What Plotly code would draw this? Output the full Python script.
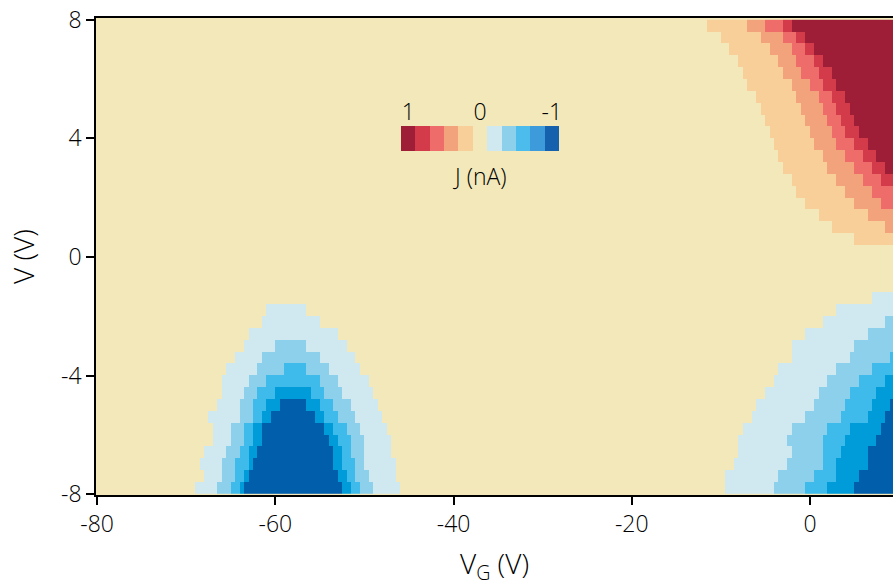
import numpy as np
import plotly.graph_objects as go

# ---------------- data ----------------
# level colours, from J = -1 (index 0) to J = +1 (index 10)
level_colors = ["#005EAB", "#009CDA", "#3FBBEB", "#8DD0EC", "#D0E8F0",
                "#F2E8BA",
                "#F8CF98", "#F3A37C", "#EE6C69", "#D33B4A", "#9E1D37"]
inset_colors = ["#1561AD", "#3D9BDC", "#4BBCEC", "#8DD0EC", "#D0E8F0",
                "#F2E8BA",
                "#F8CF98", "#F3A37C", "#EE6C69", "#D33B4A", "#9E1D37"]
inset_values = [1, 0.8, 0.6, 0.4, 0.2, 0, -0.2, -0.4, -0.6, -0.8, -1]
inset_ticks = ["1", "0", "-1"]

x_ticks = [-80, -60, -40, -20, 0]
x_tick_text = ["-80", "-60", "-40", "-20", "0"]
y_ticks = [-8, -4, 0, 4, 8]
y_tick_text = ["-8", "-4", "0", "4", "8"]

# Positive-current lobe (top right): V_G where each level starts, per bias row
red_rows_v = [7.8, 7.4, 7.0, 6.6, 6.2, 5.8, 5.4, 5.0, 4.6, 4.2, 3.8, 3.4, 3.0,
              2.6, 2.2, 1.8, 1.4, 1.0, 0.6]
red_l1 = [-11.5, -10, -9, -8, -7.5, -7, -6, -5.5, -5, -4.5, -4, -3.5, -3,
          -2, -1.5, -0.5, 1, 2.5, 5]
red_l2 = [-7, -5.5, -4.5, -3.5, -3, -2, -1.5, -1, -0.5, 0, 0.5, 1.5, 2,
          3, 4, 5, 6.5, 8.5, None]
red_l3 = [-5, -3, -2, -1.5, -1, 0, 1, 1.5, 2, 2.5, 3, 4, 5,
          6, 7, 8, None, None, None]
red_l4 = [-3, -1.5, -0.5, 0.5, 1, 1.5, 2.5, 3, 3.5, 4, 5, 6, 7,
          8, None, None, None, None, None]
red_l5 = [-2, -0.5, 0.5, 1.5, 2.5, 3, 4, 4.5, 5, 5.5, 6.5, 7.5, 8.5,
          None, None, None, None, None, None]

# Negative-current lobe around V_G = -58 V: start / end of each level per row
lb_rows_v = [-7.8, -7.4, -7.0, -6.6, -6.2, -5.8, -5.4, -5.0, -4.6, -4.2,
             -3.8, -3.4, -3.0, -2.6, -2.2, -1.8]
lb_s1 = [-69, -68, -68.5, -68, -67, -67, -67.5, -66.5, -66, -66,
         -65.5, -64.5, -63.5, -63, -61.5, -61]
lb_e1 = [-46, -46.5, -46.5, -47, -47, -47.5, -48, -48.5, -49, -49.5,
         -50.5, -51, -52, -53, -55, -56.5]
lb_s2 = [-66.5, -66, -66, -65.5, -65, -65, -64, -64, -63.5, -63,
         -62, -61.5, -60, None, None, None]
lb_e2 = [-49, -49.5, -50, -50, -50, -50.5, -51, -51.5, -52.5, -53,
         -54, -55, -56.5, None, None, None]
lb_s3 = [-65, -64.5, -64.5, -64, -63.5, -63.5, -62.5, -62.5, -62, -61,
         -59, None, None, None, None, None]
lb_e3 = [-50.5, -51, -51, -51.5, -51.5, -52, -53, -53.5, -54.5, -55,
         -56.5, None, None, None, None, None]
lb_s4 = [-64, -63.5, -63, -63, -62.5, -62.5, -61.5, -61, -60,
         None, None, None, None, None, None, None]
lb_e4 = [-51.5, -52, -52.5, -52.5, -53, -53.5, -54.5, -55, -56,
         None, None, None, None, None, None, None]
lb_s5 = [-63.5, -63, -62.5, -62, -61.5, -61.5, -60.5, -59.5,
         None, None, None, None, None, None, None, None]
lb_e5 = [-52.5, -53, -53.5, -53.5, -54, -54.5, -55.5, -56.5,
         None, None, None, None, None, None, None, None]

# Negative-current lobe at the right edge: V_G where each level starts
rb_rows_v = [-7.8, -7.4, -7.0, -6.6, -6.2, -5.8, -5.4, -5.0, -4.6, -4.2,
             -3.8, -3.4, -3.0, -2.6, -2.2, -1.8, -1.4]
rb_s1 = [-9.5, -9.5, -8.5, -8, -8, -7.5, -6.5, -6, -5, -4,
         -3.5, -2, -2, -0.5, 1.5, 3, 7]
rb_s2 = [-4, -3.5, -2.5, -2, -2.5, -2, -0.5, 0.5, 1, 2,
         3, 4.5, 5, 6.5, 8.5, None, None]
rb_s3 = [-0.5, 0.5, 1.5, 1.5, 1.5, 2, 3.5, 4, 4.5, 5.5,
         7, 9, None, None, None, None, None]
rb_s4 = [2, 3, 3, 3.5, 4, 4.5, 6.5, 7, 7.5, 8.5,
         None, None, None, None, None, None, None]
rb_s5 = [5, 5.5, 6.5, 6.5, 7.5, 8, 8.5, 9,
         None, None, None, None, None, None, None, None, None]

# ---------------- build the gridded map (0.5 V x 0.4 V cells) ----------------
dx, dy = 0.5, 0.4
x_c = np.arange(-79.75, 10.3, dx)
y_c = np.round(np.arange(-7.8, 7.9, dy), 2)
level = np.zeros((len(y_c), len(x_c)), dtype=int)
eps = 1e-6
xl = x_c - dx / 2
xr = x_c + dx / 2


def row_index(v):
    return int(round((v - y_c[0]) / dy))


for k, v in enumerate(red_rows_v):
    r = row_index(v)
    for starts in (red_l1, red_l2, red_l3, red_l4, red_l5):
        s = starts[k]
        if s is not None:
            level[r] += (xl >= s - eps).astype(int)

for k, v in enumerate(lb_rows_v):
    r = row_index(v)
    for s_arr, e_arr in ((lb_s1, lb_e1), (lb_s2, lb_e2), (lb_s3, lb_e3),
                         (lb_s4, lb_e4), (lb_s5, lb_e5)):
        s, e = s_arr[k], e_arr[k]
        if s is not None:
            level[r] -= ((xl >= s - eps) & (xr <= e + eps)).astype(int)

for k, v in enumerate(rb_rows_v):
    r = row_index(v)
    for starts in (rb_s1, rb_s2, rb_s3, rb_s4, rb_s5):
        s = starts[k]
        if s is not None:
            level[r] -= (xl >= s - eps).astype(int)

J = level / 5.0


def discrete_scale(colors):
    n = len(colors)
    cs = []
    for i, c in enumerate(colors):
        cs.append([i / n, c])
        cs.append([(i + 1) / n, c])
    return cs


font_family = "Open Sans, Lato, DejaVu Sans, sans-serif"
txt_color = "#000000"
fs = 23

fig = go.Figure()
fig.add_trace(go.Heatmap(
    x=x_c, y=y_c, z=J,
    colorscale=discrete_scale(level_colors), zmin=-1.1, zmax=1.1,
    showscale=False, hoverinfo="skip"))

fig.add_trace(go.Heatmap(
    x=list(range(len(inset_values))), y=[0], z=[inset_values],
    colorscale=discrete_scale(inset_colors), zmin=-1.1, zmax=1.1,
    showscale=False, hoverinfo="skip", xaxis="x2", yaxis="y2"))

fig.update_layout(
    template="none",
    width=893, height=586, autosize=False,
    margin=dict(l=96, r=0, t=18, b=91, pad=0, autoexpand=False),
    paper_bgcolor="white", plot_bgcolor="#F2E8BA",
    font=dict(family=font_family, size=fs, color=txt_color, weight=300),
    showlegend=False,
    xaxis=dict(
        range=[-80.13, 9.32], tickvals=x_ticks, ticktext=x_tick_text,
        ticks="outside", ticklen=8, tickwidth=1.5, tickcolor="black",
        showline=True, linecolor="black", linewidth=1.5, mirror=True,
        showgrid=False, zeroline=False, automargin=False,
        title=dict(text="V<sub>G</sub> (V)", standoff=17),
        tickfont=dict(size=fs)),
    yaxis=dict(
        range=[-8.03, 8.06], tickvals=y_ticks, ticktext=y_tick_text,
        ticks="outside", ticklen=8, tickwidth=1.5, tickcolor="black",
        showline=True, linecolor="black", linewidth=1.5,
        showgrid=False, zeroline=False, automargin=False,
        title=dict(text="V (V)", standoff=18),
        tickfont=dict(size=fs)),
    xaxis2=dict(
        domain=[0.3827, 0.5809], anchor="y2", range=[-0.5, 10.5],
        tickvals=[0, 5, 10], ticktext=inset_ticks, side="top",
        ticks="", showline=False, showgrid=False, zeroline=False,
        automargin=False, tickfont=dict(size=fs)),
    yaxis2=dict(
        domain=[0.7212, 0.7736], anchor="x2", range=[-0.5, 0.5],
        visible=False),
    annotations=[dict(
        text="J (nA)", x=0.4818, y=0.669, xref="paper", yref="paper",
        showarrow=False, font=dict(size=fs), xanchor="center",
        yanchor="middle")],
)

fig.write_html("out.html")
